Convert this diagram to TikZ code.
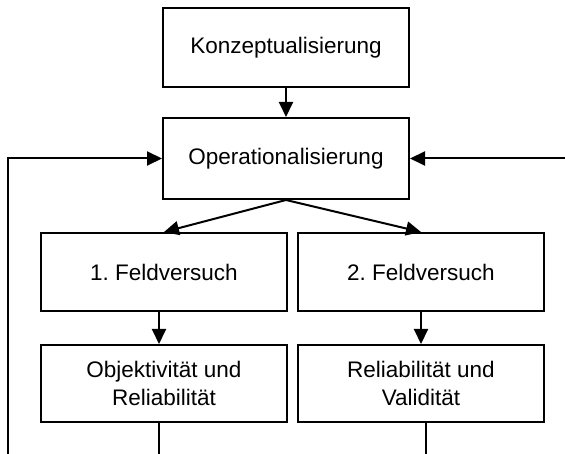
\documentclass[tikz,border=0pt]{standalone}
\usepackage{fontspec}
\setmainfont{Liberation Sans}
\usetikzlibrary{arrows.meta}
\frenchspacing
\begin{document}
\begin{tikzpicture}[x=1pt,y=-1pt,
  box/.style={draw=black, line width=2pt, minimum width=246pt, align=center,
    font=\fontsize{22.5}{28}\selectfont, inner sep=0pt},
  conn/.style={line width=2pt, -{Triangle[length=15pt,width=14pt]}},
  plain/.style={line width=2pt}]
\useasboundingbox (0,0) rectangle (565,454);
\node[box, minimum height=79pt] (K) at (286,47.5) {Konzeptualisierung};
\node[box, minimum height=81pt] (O) at (286,158.5) {Operationalisierung};
\node[box, minimum height=78pt] (F1) at (164,272) {1.\ Feldversuch};
\node[box, minimum height=78pt] (F2) at (421,272) {2.\ Feldversuch};
\node[box, minimum height=77pt] (R1) at (164,383.5) {Objektivität und\\Reliabilität};
\node[box, minimum height=77pt] (R2) at (421,383.5) {Reliabilität und\\Validität};
\coordinate (lb) at (8,454);
\coordinate (rr) at (565,158.5);
\coordinate (b1) at (159,454);
\coordinate (b2) at (426,454);
\draw[conn] (K) -- (O);
\draw[conn] (O.south) -- (F1.north);
\draw[conn] (O.south) -- (F2.north);
\draw[conn] ([xshift=-5pt]F1.south) -- ([xshift=-5pt]R1.north);
\draw[conn] (F2.south) -- (R2.north);
\draw[plain] ([xshift=-5pt]R1.south) -- (b1);
\draw[plain] ([xshift=5pt]R2.south) -- (b2);
\draw[conn] (lb) |- (O.west);
\draw[conn] (rr) -- (O.east);
\end{tikzpicture}
\end{document}
